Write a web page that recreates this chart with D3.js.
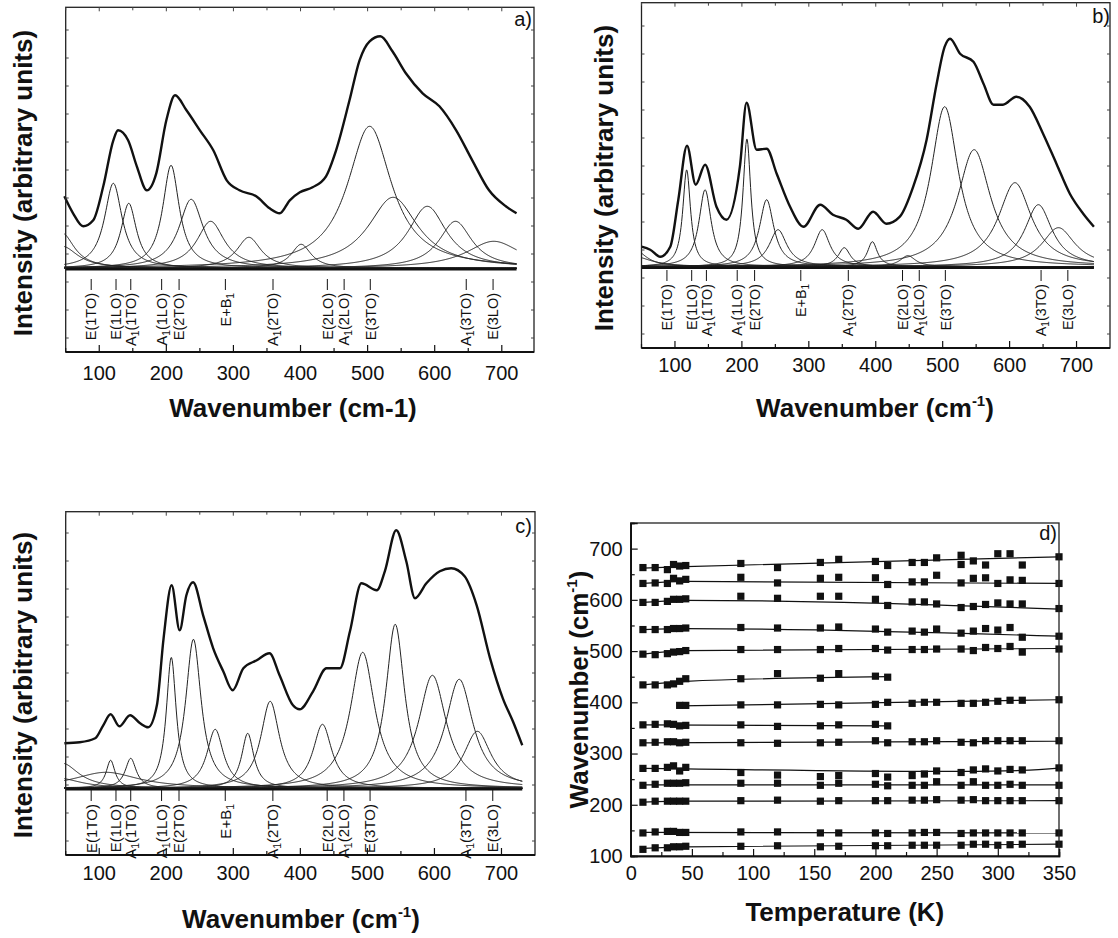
<!DOCTYPE html>
<html>
<head>
<meta charset="utf-8">
<script src="https://cdnjs.cloudflare.com/ajax/libs/d3/7.8.5/d3.min.js"></script>
<style>
  body { margin: 0; background: #fff; }
  svg { font-family: "Liberation Sans", Arial, sans-serif; }
</style>
</head>
<body>
<svg id="chart" width="1118" height="938"></svg>
<script>
// ---- mode labels (shared by the three spectra), "_1" = subscript 1
const modeNames = ["E(1TO)", "E(1LO)", "A_1(1TO)", "A_1(1LO)", "E(2TO)", "E+B_1",
                   "A_1(2TO)", "E(2LO)", "A_1(2LO)", "E(3TO)", "A_1(3TO)", "E(3LO)"];
const modeWn = [88, 125, 147, 193, 219, 288, 359, 440, 465, 504, 647, 687];

// ---- spectrum a (measured), intensity in arbitrary units
const specAx = [48, 61, 76, 91, 106, 121, 128, 143, 156, 171, 185, 200, 213, 230, 250, 270, 290, 309,
                334, 354, 369, 384, 399, 418, 438, 453, 473, 488, 503, 519, 537, 557, 582, 607, 632,
                656, 681, 706, 722];
const specAy = [72, 55, 42, 48, 82, 128, 138, 128, 102, 78, 95, 148, 173, 158, 138, 118, 88, 78,
                72, 60, 55, 68, 76, 81, 92, 118, 168, 208, 227, 232, 217, 195, 175, 162, 138,
                108, 78, 62, 55];
// fitted components a: centre, height, half width
const compAc = [45, 45, 121, 144, 207, 237, 266, 323, 401, 503, 538, 589, 631, 688];
const compAh = [35, 22, 85, 65, 103, 69, 47, 31, 24, 142, 71, 62, 47, 27];
const compAw = [22, 28, 16, 14, 15, 22, 25, 22, 18, 40, 45, 35, 30, 50];

// ---- spectrum b
const specBx = [50, 63, 78, 93, 105, 118, 131, 145, 162, 177, 197, 207, 222, 237, 252, 272, 292, 317,
                336, 356, 374, 396, 416, 436, 456, 476, 491, 503, 511, 526, 546, 561, 576, 590, 610,
                630, 650, 670, 690, 710, 726];
const specBy = [20, 17, 10, 20, 67, 121, 82, 102, 60, 47, 100, 164, 117, 118, 93, 60, 40, 62,
                52, 47, 38, 55, 43, 50, 80, 127, 183, 220, 228, 213, 205, 183, 162, 162, 170,
                160, 133, 103, 73, 53, 40];
const compBc = [40, 40, 117.5, 145, 207.5, 237, 254, 320, 353, 395, 448, 503, 547, 608, 643, 673];
const compBh = [17, 10, 97, 77, 128, 67, 37, 37, 19, 25, 11, 160, 117, 84, 62, 39];
const compBw = [20, 30, 7, 11, 7, 13, 16, 14, 11, 9, 14, 25, 30, 30, 25, 30];

// ---- spectrum c
const specCx = [48, 71, 94, 106, 117, 130, 146, 161, 173, 186, 196, 208, 220, 230, 240, 255, 270, 285,
                299, 315, 335, 354, 369, 389, 399, 419, 439, 459, 474, 491, 514, 526, 543, 558, 571,
                588, 608, 625, 645, 663, 683, 702, 717, 731];
const specCy = [45, 46, 50, 63, 74, 62, 73, 65, 61, 83, 150, 203, 158, 193, 206, 173, 140, 117,
                98, 120, 128, 135, 113, 83, 79, 97, 120, 120, 157, 205, 198, 217, 258, 227, 190,
                205, 217, 220, 212, 183, 130, 90, 67, 43];
const compCc = [45, 110, 40, 117, 147, 207.5, 240.5, 273, 321.5, 355, 433, 493, 541.5, 597, 637, 664];
const compCh = [25, 16, 10, 28, 30, 131, 149, 59, 55, 87, 64, 136, 164, 113, 109, 57];
const compCw = [30, 60, 40, 8, 10, 9, 14, 15, 11, 17, 17, 22, 17, 25, 25, 25];

// ---- panel d: mode frequency vs temperature
const temps = [10, 20, 30, 35, 40, 45, 90, 120, 155, 170, 200, 210, 230, 240, 250, 270, 280, 290, 300, 310, 320, 350];
const N = null;
const modeSeries = [
  [663, 663, 659, 669, 666, 667, 671, 663, 673, 679, 675, 667, 673, 673, 682, 687, 676, 668, 690, 690, 668, 684],
  [632, 633, 632, 642, 637, 640, 644, 633, 642, 644, 643, 630, 635, 635, 648, 633, 642, 643, 632, 639, 638, 632],
  [595, 595, 597, 601, 601, 602, 607, 603, 607, 607, 601, 589, 596, 596, 592, 585, 587, 591, 594, 592, 592, 583],
  [542, 542, 542, 544, 544, 545, 546, 545, 545, 547, 543, 537, 539, 537, 543, 535, 539, 544, 541, 546, 527, 529],
  [494, 493, 495, 498, 499, 501, 503, 503, 503, 505, 505, 502, 503, 503, 504, 504, 501, 507, 505, 509, 498, 504],
  [434, 434, 434, 436, 441, 446, 446, 456, 447, 456, 451, 449, N, N, N, N, N, N, N, N, N, N],
  [N, N, N, N, 394, 394, 395, 395, 396, 395, 396, 400, 398, 400, 400, 398, 398, 400, 402, 404, 404, 405],
  [356, 357, 358, 357, 354, 355, 356, 353, 354, 356, 357, 354, N, N, N, N, N, N, N, N, N, N],
  [321, 322, 323, 323, 321, 322, 321, 320, 321, 322, 325, 321, 323, 323, 325, 322, 321, 325, 325, 325, 325, 325],
  [271, 271, 273, 276, 266, 273, 263, 258, 255, 257, 261, 254, 257, 260, 266, 263, 268, 270, 266, 269, 268, 272],
  [238, 240, 242, 242, 242, 243, 242, 242, 238, 242, 240, 237, 238, 238, 245, 238, 245, 238, 238, 240, 238, 238],
  [205, 207, 207, 207, 207, 207, 208, 209, 207, 208, 208, 208, 209, 209, 210, 209, 210, 208, 208, 208, 208, 208],
  [145, 147, 148, 148, 146, 146, 147, 147, 145, 145, 145, 144, 145, 146, 146, 144, 145, 145, 145, 145, 145, 145],
  [113, 116, 116, 118, 118, 119, 119, 120, 118, 119, 120, 120, 121, 121, 121, 121, 123, 123, 121, 122, 123, 123]
];
const extraPoints = [[270, 669]];
// fit lines through each branch: [T, wavenumber] knots
const fitLines = [
  [[10, 662], [45, 665], [350, 684]],
  [[10, 632], [45, 636], [350, 632]],
  [[10, 595], [45, 599], [350, 582]],
  [[10, 542], [45, 544], [350, 529]],
  [[10, 494], [45, 501], [350, 505]],
  [[10, 434], [45, 441], [210, 450]],
  [[40, 393], [350, 405]],
  [[10, 356], [210, 354]],
  [[10, 321], [350, 324]],
  [[10, 271], [45, 270], [250, 265], [320, 267], [352, 272]],
  [[10, 239], [350, 239]],
  [[10, 205], [45, 207], [350, 208]],
  [[10, 146], [350, 145]],
  [[10, 115], [45, 118], [350, 123]]
];

const svg = d3.select("#chart");
const ink = "#111";

function labelParts(sel, str, subDy) {
  str.split(/_(\d)/).forEach((part, i) => {
    if (i % 2 === 1) {
      sel.append("tspan").attr("font-size", "70%").attr("dy", subDy).text(part);
    } else {
      const t = sel.append("tspan").text(part);
      if (i > 0) t.attr("dy", -subDy);
    }
  });
}

function spectrumPanel(p) {
  const x = d3.scaleLinear().domain([50, p.xMax]).range([p.left, p.right]);
  const y = d3.scaleLinear().domain([0, p.zero - p.top]).range([p.zero, p.top]);
  const g = svg.append("g");

  const x0 = p.specX[0], x1 = p.specX[p.specX.length - 1];
  const grid = d3.range(x0, x1 + 0.01, 1);
  const line = d3.line().x(d => x(d[0])).y(d => y(d[1]));

  // fitted components
  p.cc.forEach((c, i) => {
    const h = p.ch[i], w = p.cw[i];
    g.append("path")
      .attr("d", line(grid.map(v => [v, h / (1 + ((v - c) / w) ** 2)])))
      .attr("fill", "none").attr("stroke", "#222").attr("stroke-width", 1);
  });

  // baseline
  g.append("line").attr("x1", p.left).attr("x2", x(x1))
    .attr("y1", p.zero + 1).attr("y2", p.zero + 1)
    .attr("stroke", ink).attr("stroke-width", 2.4);

  // measured spectrum
  g.append("path")
    .attr("d", d3.line().x(d => x(d[0])).y(d => y(d[1])).curve(d3.curveMonotoneX)(p.specX.map((v, i) => [v, p.specY[i]])))
    .attr("fill", "none").attr("stroke", ink).attr("stroke-width", 2.4);

  // mode labels
  modeWn.forEach((wn, i) => {
    const lx = x(wn);
    g.append("line").attr("x1", lx).attr("x2", lx)
      .attr("y1", p.dashTop).attr("y2", p.dashTop + 11)
      .attr("stroke", ink).attr("stroke-width", 1);
    const t = g.append("text")
      .attr("transform", `translate(${lx},${p.dashTop + 14}) rotate(-90)`)
      .attr("text-anchor", "end").attr("dy", "0.36em")
      .attr("font-size", p.labelSize).attr("fill", ink);
    labelParts(t, modeNames[i], 3);
  });

  // frame
  g.append("rect").attr("x", p.left).attr("y", p.top)
    .attr("width", p.right - p.left).attr("height", p.bottom - p.top)
    .attr("fill", "none").attr("stroke", "#222").attr("stroke-width", 1.3);
  g.append("line").attr("x1", p.left).attr("x2", p.right)
    .attr("y1", p.bottom).attr("y2", p.bottom)
    .attr("stroke", ink).attr("stroke-width", 1.8);

  // bottom ticks + labels
  const major = d3.range(100, 701, 100), minor = d3.range(50, p.xMax, 50).filter(v => v % 100);
  const tk = g.append("g");
  major.forEach(v => {
    tk.append("line").attr("x1", x(v)).attr("x2", x(v)).attr("y1", p.bottom).attr("y2", p.bottom - 7).attr("stroke", ink).attr("stroke-width", 1.2);
    tk.append("line").attr("x1", x(v)).attr("x2", x(v)).attr("y1", p.top).attr("y2", p.top + 4).attr("stroke", "#444").attr("stroke-width", 1);
    tk.append("text").attr("x", x(v)).attr("y", p.tickBase).attr("text-anchor", "middle")
      .attr("font-size", 20).attr("fill", ink).text(v);
  });
  minor.forEach(v => {
    tk.append("line").attr("x1", x(v)).attr("x2", x(v)).attr("y1", p.bottom).attr("y2", p.bottom - 4).attr("stroke", ink).attr("stroke-width", 1.2);
    tk.append("line").attr("x1", x(v)).attr("x2", x(v)).attr("y1", p.top).attr("y2", p.top + 3).attr("stroke", "#444").attr("stroke-width", 1);
  });
  // side ticks (no labels)
  d3.range(p.bottom - 14, p.top + 4, -28).forEach(yy => {
    tk.append("line").attr("x1", p.left).attr("x2", p.left + 3).attr("y1", yy).attr("y2", yy).attr("stroke", "#444");
    tk.append("line").attr("x1", p.right).attr("x2", p.right - 3).attr("y1", yy).attr("y2", yy).attr("stroke", "#444");
  });

  // titles
  const xt = g.append("text").attr("x", p.xTitleX).attr("y", p.xTitleY).attr("text-anchor", "middle")
    .attr("font-size", 26).attr("font-weight", "bold").attr("fill", ink);
  if (p.superscript) {
    xt.append("tspan").text("Wavenumber (cm");
    xt.append("tspan").attr("font-size", 15).attr("dy", -11).text("-1");
    xt.append("tspan").attr("dy", 11).text(")");
  } else {
    xt.text("Wavenumber (cm-1)");
  }
  g.append("text")
    .attr("transform", `translate(${p.yTitleX},${p.yTitleY}) rotate(-90)`)
    .attr("text-anchor", "middle").attr("font-size", 26).attr("font-weight", "bold").attr("fill", ink)
    .text("Intensity (arbitrary units)");
  g.append("text").attr("x", p.tagX).attr("y", p.tagY).attr("text-anchor", "end")
    .attr("font-size", 20).attr("fill", ink).text(p.tag);
}

spectrumPanel({
  tag: "a)", specX: specAx, specY: specAy, cc: compAc, ch: compAh, cw: compAw,
  xMax: 748, left: 65.7, right: 534, top: 7.3, bottom: 352, zero: 268.3,
  dashTop: 279, labelSize: 14.5, tickBase: 380,
  xTitleX: 293, xTitleY: 417, yTitleX: 31.5, yTitleY: 183, tagX: 532, tagY: 26, superscript: false
});
spectrumPanel({
  tag: "b)", specX: specBx, specY: specBy, cc: compBc, ch: compBh, cw: compBw,
  xMax: 750, left: 641.5, right: 1110, top: 2.7, bottom: 348, zero: 266.7,
  dashTop: 270, labelSize: 14.3, tickBase: 372,
  xTitleX: 875, xTitleY: 417, yTitleX: 613, yTitleY: 178, tagX: 1110, tagY: 23, superscript: true
});
spectrumPanel({
  tag: "c)", specX: specCx, specY: specCy, cc: compCc, ch: compCh, cw: compCw,
  xMax: 750, left: 65.7, right: 535, top: 511.7, bottom: 855, zero: 788.3,
  dashTop: 790, labelSize: 15, tickBase: 880,
  xTitleX: 301, xTitleY: 928, yTitleX: 31.5, yTitleY: 685, tagX: 532, tagY: 533, superscript: true
});

// ---- panel d
(function () {
  const L = 630.7, R = 1059, T = 523, B = 856;
  const x = d3.scaleLinear().domain([0, 350]).range([L, R]);
  const y = d3.scaleLinear().domain([100, 750]).range([B, T]);
  const g = svg.append("g");

  const fit = d3.line().x(d => x(d[0])).y(d => y(d[1])).curve(d3.curveMonotoneX);
  fitLines.forEach(k => {
    g.append("path").attr("d", fit(k)).attr("fill", "none").attr("stroke", ink).attr("stroke-width", 1.2);
  });

  const pts = [];
  modeSeries.forEach(s => s.forEach((v, i) => { if (v !== null) pts.push([temps[i], v]); }));
  extraPoints.forEach(p => pts.push(p));
  g.selectAll("rect.pt").data(pts).join("rect").attr("class", "pt")
    .attr("x", d => x(d[0]) - 3.6).attr("y", d => y(d[1]) - 3.6)
    .attr("width", 7.2).attr("height", 7.2).attr("fill", ink);

  g.append("rect").attr("x", L).attr("y", T).attr("width", R - L).attr("height", B - T)
    .attr("fill", "none").attr("stroke", "#222").attr("stroke-width", 1.3);

  g.append("g").attr("transform", `translate(0,${B})`)
    .call(d3.axisBottom(x).tickValues(d3.range(0, 351, 50)).tickSize(-7).tickPadding(10).tickFormat(d3.format("d")));
  g.append("g").attr("transform", `translate(0,${B})`)
    .call(d3.axisBottom(x).tickValues(d3.range(25, 350, 50)).tickSize(-4).tickFormat(""));
  g.append("g").attr("transform", `translate(${L},0)`)
    .call(d3.axisLeft(y).tickValues(d3.range(100, 701, 100)).tickSize(-7).tickPadding(8).tickFormat(d3.format("d")));
  g.append("g").attr("transform", `translate(${L},0)`)
    .call(d3.axisLeft(y).tickValues(d3.range(150, 751, 100)).tickSize(-4).tickFormat(""));
  g.selectAll(".domain").attr("stroke", ink).attr("stroke-width", 1.5);
  g.selectAll(".tick line").attr("stroke", ink).attr("stroke-width", 1.2);
  g.selectAll(".tick text").attr("font-size", 20).attr("fill", ink)
    .attr("font-family", "'Liberation Sans', Arial, sans-serif");

  g.append("text").attr("x", (L + R) / 2).attr("y", 921).attr("text-anchor", "middle")
    .attr("font-size", 26).attr("font-weight", "bold").attr("fill", ink).text("Temperature (K)");
  const yt = g.append("text").attr("transform", `translate(588,${(T + B) / 2}) rotate(-90)`)
    .attr("text-anchor", "middle").attr("font-size", 26).attr("font-weight", "bold").attr("fill", ink);
  yt.append("tspan").text("Wavenumber (cm");
  yt.append("tspan").attr("font-size", 15).attr("dy", -11).text("-1");
  yt.append("tspan").attr("dy", 11).text(")");
  g.append("text").attr("x", 1057).attr("y", 540).attr("text-anchor", "end")
    .attr("font-size", 20).attr("fill", ink).text("d)");
})();
</script>
</body>
</html>
